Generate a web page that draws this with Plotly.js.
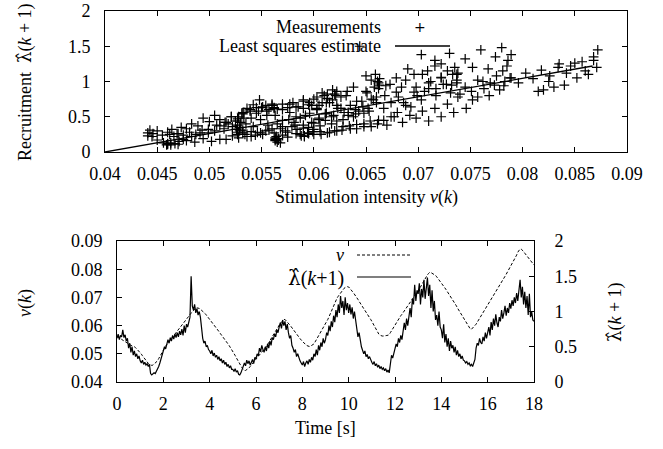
<!DOCTYPE html>
<html><head><meta charset="utf-8">
<script src="https://cdn.plot.ly/plotly-3.0.1.min.js"></script>
<style>html,body{margin:0;padding:0;background:#fff}#chart{width:663px;height:449px}</style>
</head><body><div id="chart"></div>
<script>
// sampling step of the recorded time series [s]
const dt = 0.05;
// stimulation intensity v(k)
const v = [
0.0562,0.0560,0.0557,0.0554,0.0551,0.0548,0.0545,0.0542,0.0539,0.0536,0.0533,0.0531,0.0530,0.0528,0.0527,0.0525,0.0522,0.0518,0.0514,0.0510,
0.0505,0.0499,0.0493,0.0487,0.0481,0.0475,0.0470,0.0466,0.0462,0.0460,0.0459,0.0460,0.0463,0.0467,0.0471,0.0475,0.0483,0.0491,0.0499,0.0507,
0.0515,0.0521,0.0527,0.0533,0.0539,0.0545,0.0550,0.0555,0.0560,0.0565,0.0570,0.0575,0.0580,0.0585,0.0590,0.0595,0.0600,0.0605,0.0610,0.0615,
0.0620,0.0626,0.0632,0.0638,0.0644,0.0650,0.0655,0.0659,0.0662,0.0663,0.0663,0.0661,0.0658,0.0655,0.0652,0.0648,0.0643,0.0638,0.0633,0.0628,
0.0622,0.0617,0.0611,0.0606,0.0600,0.0595,0.0590,0.0584,0.0579,0.0573,0.0568,0.0562,0.0557,0.0551,0.0546,0.0540,0.0534,0.0528,0.0522,0.0516,
0.0510,0.0502,0.0494,0.0486,0.0478,0.0470,0.0463,0.0456,0.0450,0.0445,0.0441,0.0441,0.0443,0.0446,0.0450,0.0455,0.0460,0.0464,0.0469,0.0473,
0.0478,0.0483,0.0489,0.0494,0.0500,0.0505,0.0510,0.0516,0.0521,0.0527,0.0532,0.0540,0.0547,0.0555,0.0562,0.0570,0.0577,0.0583,0.0590,0.0596,
0.0603,0.0608,0.0613,0.0618,0.0621,0.0622,0.0618,0.0613,0.0608,0.0603,0.0598,0.0592,0.0587,0.0581,0.0576,0.0570,0.0565,0.0560,0.0554,0.0549,
0.0544,0.0540,0.0536,0.0532,0.0529,0.0527,0.0526,0.0527,0.0529,0.0532,0.0535,0.0542,0.0549,0.0556,0.0563,0.0570,0.0577,0.0583,0.0590,0.0596,
0.0603,0.0612,0.0622,0.0631,0.0641,0.0650,0.0660,0.0669,0.0679,0.0688,0.0698,0.0704,0.0710,0.0716,0.0722,0.0728,0.0732,0.0735,0.0737,0.0738,
0.0737,0.0733,0.0727,0.0722,0.0717,0.0712,0.0706,0.0699,0.0693,0.0686,0.0680,0.0674,0.0667,0.0661,0.0654,0.0648,0.0641,0.0635,0.0628,0.0622,
0.0615,0.0607,0.0599,0.0591,0.0583,0.0575,0.0570,0.0566,0.0564,0.0563,0.0563,0.0563,0.0564,0.0565,0.0566,0.0568,0.0575,0.0582,0.0590,0.0598,
0.0605,0.0611,0.0617,0.0623,0.0629,0.0635,0.0640,0.0646,0.0651,0.0657,0.0662,0.0668,0.0673,0.0679,0.0684,0.0690,0.0696,0.0703,0.0709,0.0716,
0.0722,0.0730,0.0737,0.0745,0.0752,0.0760,0.0767,0.0774,0.0780,0.0785,0.0789,0.0788,0.0786,0.0783,0.0781,0.0778,0.0773,0.0768,0.0762,0.0757,
0.0752,0.0746,0.0740,0.0734,0.0728,0.0722,0.0716,0.0710,0.0704,0.0698,0.0692,0.0685,0.0677,0.0670,0.0662,0.0655,0.0648,0.0641,0.0634,0.0627,
0.0620,0.0613,0.0606,0.0600,0.0594,0.0588,0.0587,0.0591,0.0595,0.0600,0.0605,0.0612,0.0619,0.0626,0.0633,0.0640,0.0647,0.0653,0.0660,0.0667,
0.0674,0.0681,0.0688,0.0696,0.0703,0.0710,0.0717,0.0724,0.0731,0.0738,0.0745,0.0751,0.0757,0.0763,0.0769,0.0775,0.0782,0.0789,0.0796,0.0803,
0.0810,0.0818,0.0826,0.0834,0.0842,0.0850,0.0860,0.0868,0.0872,0.0871,0.0868,0.0863,0.0857,0.0852,0.0846,0.0840,0.0835,0.0830,0.0825,0.0820,
0.0815];
// measured recruitment lambda_hat(k+1)
const lambdaHat = [
0.62,0.68,0.60,0.66,0.64,0.74,0.63,0.67,0.58,0.62,0.48,0.55,0.42,0.50,0.38,0.44,0.36,0.40,0.33,0.37,
0.30,0.27,0.31,0.25,0.28,0.24,0.26,0.22,0.25,0.12,0.10,0.11,0.13,0.12,0.15,0.18,0.22,0.27,0.32,0.38,
0.42,0.50,0.47,0.56,0.60,0.55,0.63,0.58,0.66,0.61,0.68,0.63,0.70,0.64,0.72,0.67,0.75,0.66,0.80,0.70,
0.82,0.78,0.86,0.92,1.50,1.08,1.02,1.10,0.98,1.04,0.95,1.00,0.92,0.75,0.62,0.55,0.58,0.50,0.52,0.46,
0.44,0.40,0.45,0.37,0.41,0.35,0.38,0.32,0.36,0.30,0.33,0.27,0.31,0.25,0.28,0.22,0.25,0.20,0.23,0.18,
0.18,0.15,0.19,0.14,0.16,0.11,0.10,0.13,0.17,0.22,0.27,0.23,0.31,0.26,0.30,0.24,0.28,0.32,0.26,0.35,
0.33,0.40,0.37,0.48,0.43,0.52,0.46,0.42,0.50,0.44,0.54,0.48,0.58,0.52,0.63,0.60,0.68,0.64,0.74,0.70,
0.78,0.84,0.76,0.88,0.80,0.86,0.74,0.82,0.70,0.62,0.66,0.52,0.48,0.42,0.46,0.36,0.40,0.33,0.30,0.27,
0.24,0.29,0.22,0.27,0.30,0.25,0.32,0.28,0.35,0.31,0.40,0.36,0.46,0.38,0.52,0.45,0.56,0.50,0.62,0.55,
0.60,0.70,0.66,0.80,0.72,0.86,0.78,0.94,0.85,1.02,0.92,1.10,0.98,1.22,1.05,1.15,0.95,1.20,1.02,1.12,
0.98,1.10,0.96,1.06,0.90,1.00,0.86,0.80,0.64,0.70,0.56,0.50,0.45,0.40,0.44,0.36,0.39,0.33,0.36,0.30,
0.28,0.25,0.29,0.23,0.26,0.21,0.24,0.19,0.22,0.18,0.20,0.16,0.19,0.14,0.17,0.13,0.28,0.38,0.34,0.42,
0.46,0.54,0.50,0.62,0.56,0.66,0.60,0.72,0.84,0.74,0.90,0.80,0.96,1.05,0.92,1.18,1.10,1.38,1.15,1.30,
1.25,1.40,1.10,1.32,1.20,1.45,1.18,1.35,1.48,1.22,1.38,1.05,1.30,1.00,1.15,0.88,0.95,0.80,1.00,0.78,
0.74,0.62,0.82,0.56,0.68,0.50,0.62,0.44,0.58,0.48,0.52,0.42,0.50,0.38,0.45,0.36,0.40,0.33,0.37,0.31,
0.30,0.27,0.29,0.25,0.27,0.23,0.25,0.22,0.26,0.32,0.48,0.55,0.52,0.62,0.56,0.54,0.64,0.58,0.70,0.62,
0.70,0.78,0.66,0.85,0.74,0.90,0.80,0.96,0.84,0.78,0.92,0.86,1.02,0.90,0.98,1.08,0.94,1.05,0.98,1.12,
1.04,1.16,1.08,1.20,1.12,1.26,1.15,1.30,1.45,1.20,1.35,1.10,1.28,1.05,1.22,0.95,1.25,0.92,1.00,0.88,
0.86];
// least squares estimate (end points)
const lsX = [0.04, 0.0867];
const lsY = [0, 1.22];
// tick values / labels
const topXTicks = [0.04,0.045,0.05,0.055,0.06,0.065,0.07,0.075,0.08,0.085,0.09];
const topXLabels = ["0.04","0.045","0.05","0.055","0.06","0.065","0.07","0.075","0.08","0.085","0.09"];
const lamTicks = [0,0.5,1,1.5,2];
const lamLabels = ["0","0.5","1","1.5","2"];
const vTicks = [0.04,0.05,0.06,0.07,0.08,0.09];
const vLabels = ["0.04","0.05","0.06","0.07","0.08","0.09"];
const timeTicks = [0,2,4,6,8,10,12,14,16,18];

const time = v.map((_, i) => Math.round(i * dt * 100) / 100);

const FONT = 'Liberation Serif';
const FS = 18;
const LAM = '<span style="font-family:DejaVu Serif">λ̂</span>';
const W = 663, H = 449;
const px = x => x / W, py = y => 1 - y / H;

const traces = [
  {x: v, y: lambdaHat, xaxis: 'x', yaxis: 'y', type: 'scatter', mode: 'markers',
   marker: {symbol: 'cross-thin', size: 7, color: '#000', line: {color: '#000', width: 1.2}},
   showlegend: false, hoverinfo: 'skip'},
  {x: lsX, y: lsY, xaxis: 'x', yaxis: 'y', type: 'scatter', mode: 'lines',
   line: {color: '#000', width: 1.3}, showlegend: false, hoverinfo: 'skip'},
  {x: time, y: v, xaxis: 'x2', yaxis: 'y2', type: 'scatter', mode: 'lines',
   line: {color: '#000', width: 1, dash: '3px,2px'}, showlegend: false, hoverinfo: 'skip'},
  {x: time, y: lambdaHat, xaxis: 'x2', yaxis: 'y3', type: 'scatter', mode: 'lines',
   line: {color: '#000', width: 1.2}, showlegend: false, hoverinfo: 'skip'}
];

const axBase = {showline: true, linecolor: '#000', linewidth: 1, ticks: 'inside', ticklen: 5,
  tickcolor: '#000', tickwidth: 1, showgrid: false, zeroline: false,
  tickfont: {family: FONT, size: FS, color: '#000'}};

const ann = (x, y, text, extra) => Object.assign({xref: 'paper', yref: 'paper', x: px(x), y: py(y), text: text,
  showarrow: false, xanchor: 'center', yanchor: 'middle', font: {family: FONT, size: FS, color: '#000'}}, extra || {});

const layout = {
  width: W, height: H, margin: {l: 0, r: 0, t: 0, b: 0},
  paper_bgcolor: '#fff', plot_bgcolor: '#fff', showlegend: false,
  font: {family: FONT, size: FS, color: '#000'},
  xaxis: Object.assign({}, axBase, {domain: [px(105), px(627)], range: [0.04, 0.09], anchor: 'y',
    tickmode: 'array', tickvals: topXTicks, ticktext: topXLabels, mirror: 'ticks', ticklabelstandoff: 5}),
  yaxis: Object.assign({}, axBase, {domain: [py(152), py(11)], range: [0, 2], anchor: 'x',
    tickmode: 'array', tickvals: lamTicks, ticktext: lamLabels, mirror: 'ticks', ticklabelstandoff: 10}),
  xaxis2: Object.assign({}, axBase, {domain: [px(117), px(534)], range: [0, 18], anchor: 'y2',
    tickmode: 'array', tickvals: timeTicks, mirror: 'ticks', ticklabelstandoff: 5}),
  yaxis2: Object.assign({}, axBase, {domain: [py(382), py(241)], range: [0.04, 0.09], anchor: 'x2',
    tickmode: 'array', tickvals: vTicks, ticktext: vLabels, mirror: false, ticklabelstandoff: 10}),
  yaxis3: Object.assign({}, axBase, {domain: [py(382), py(241)], range: [0, 2], anchor: 'x2',
    overlaying: 'y2', side: 'right', tickmode: 'array', tickvals: lamTicks, ticktext: lamLabels,
    mirror: false, ticklabelstandoff: 16}),
  annotations: [
    ann(25, 82, 'Recruitment  ' + LAM + '(<i>k</i> + 1)', {textangle: -90}),
    ann(366, 197, 'Stimulation intensity <i>v</i>(<i>k</i>)'),
    ann(25, 303, '<i>v</i>(<i>k</i>)', {textangle: -90}),
    ann(615, 312, LAM + '(<i>k</i> + 1)', {textangle: -90}),
    ann(325, 428, 'Time [s]'),
    // legend (top)
    ann(383, 27, 'Measurements', {xanchor: 'right'}),
    ann(420, 27, '+', {font: {family: 'DejaVu Sans', size: 14, color: '#000'}}),
    ann(383, 46, 'Least squares estimate', {xanchor: 'right'}),
    // legend (bottom)
    ann(346, 255, '<i>v</i>', {xanchor: 'right'}),
    ann(346, 278, LAM + '(<i>k</i>+1)', {xanchor: 'right', font: {family: FONT, size: 20, color: '#000'}})
  ],
  shapes: [
    {type: 'line', xref: 'paper', yref: 'paper', x0: px(395), x1: px(450), y0: py(46), y1: py(46),
     line: {color: '#000', width: 1.3}},
    {type: 'line', xref: 'paper', yref: 'paper', x0: px(357), x1: px(411), y0: py(255), y1: py(255),
     line: {color: '#000', width: 1, dash: '3px,2px'}},
    {type: 'line', xref: 'paper', yref: 'paper', x0: px(357), x1: px(411), y0: py(277), y1: py(277),
     line: {color: '#000', width: 1.2}}
  ]
};

Plotly.newPlot('chart', traces, layout, {staticPlot: true, displayModeBar: false});
</script>
</body></html>
